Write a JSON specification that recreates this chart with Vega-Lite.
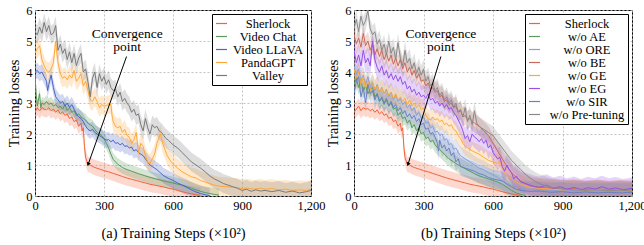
{
"$schema": "https://vega.github.io/schema/vega-lite/v6.json",
"padding": {"left": 6, "top": 3, "right": 0, "bottom": 0},
"bounds": "flush",
"spacing": 43,
"config": {
 "font": "Liberation Serif",
 "view": {"stroke": "black", "strokeWidth": 1},
 "axis": {"labelFont": "Liberation Serif", "labelFontSize": 12.5, "labelColor": "black", "titleFont": "Liberation Serif", "titleFontSize": 14.5, "titleFontWeight": "normal", "titleColor": "black", "domain": false, "ticks": false, "gridColor": "#b5b5b5", "gridDash": [2, 2], "gridWidth": 0.8, "labelPadding": 3, "labelFlush": false, "labelOverlap": false},
 "legend": {"orient": "top-right", "offset": 4, "strokeColor": "black", "strokeWidth": 1, "fillColor": "white", "padding": 3, "symbolType": "stroke", "symbolSize": 120, "symbolStrokeWidth": 1.2, "symbolOpacity": 1, "labelFont": "Liberation Serif", "labelFontSize": 12.5, "labelColor": "black", "rowPadding": -1, "labelAlign": "center", "labelLimit": 200}
},
"datasets": {
 "err": [
  {"s": "Sherlock", "e": 0.25}, {"s": "Video Chat", "e": 0.2}, {"s": "Video LLaVA", "e": 0.25}, {"s": "PandaGPT", "e": 0.3}, {"s": "Valley", "e": 0.3},
  {"s": "w/o AE", "e": 0.25}, {"s": "w/o ORE", "e": 0.3}, {"s": "w/o BE", "e": 0.3}, {"s": "w/o GE", "e": 0.3}, {"s": "w/o EG", "e": 0.35}, {"s": "w/o SIR", "e": 0.3}, {"s": "w/o Pre-tuning", "e": 0.3}
 ],
 "annA": [{"x": 398, "y": 4.5, "x2": 232, "y2": 1.04}],
 "txtA": [{"x": 401, "y": 5.22, "t": "Convergence"}, {"x": 401, "y": 4.8, "t": "point"}],
 "annB": [{"x": 375, "y": 4.5, "x2": 234, "y2": 1.04}],
 "txtB": [{"x": 375, "y": 5.22, "t": "Convergence"}, {"x": 375, "y": 4.8, "t": "point"}],
 "a": [
{"s":"Sherlock","x":0,"y":2.70},{"s":"Sherlock","x":10,"y":2.85},{"s":"Sherlock","x":20,"y":2.75},{"s":"Sherlock","x":30,"y":2.85},{"s":"Sherlock","x":40,"y":2.80},{"s":"Sherlock","x":50,"y":2.78},{"s":"Sherlock","x":60,"y":2.85},{"s":"Sherlock","x":70,"y":2.75},{"s":"Sherlock","x":80,"y":2.80},{"s":"Sherlock","x":90,"y":2.70},{"s":"Sherlock","x":100,"y":2.78},{"s":"Sherlock","x":110,"y":2.65},{"s":"Sherlock","x":120,"y":2.72},{"s":"Sherlock","x":130,"y":2.60},{"s":"Sherlock","x":140,"y":2.65},{"s":"Sherlock","x":150,"y":2.50},{"s":"Sherlock","x":160,"y":2.55},{"s":"Sherlock","x":170,"y":2.40},{"s":"Sherlock","x":180,"y":2.45},{"s":"Sherlock","x":190,"y":2.25},{"s":"Sherlock","x":200,"y":2.35},{"s":"Sherlock","x":205,"y":2.10},{"s":"Sherlock","x":210,"y":2.20},{"s":"Sherlock","x":215,"y":1.60},{"s":"Sherlock","x":220,"y":1.25},{"s":"Sherlock","x":230,"y":1.02},{"s":"Sherlock","x":240,"y":1.00},{"s":"Sherlock","x":250,"y":0.95},{"s":"Sherlock","x":260,"y":0.92},{"s":"Sherlock","x":280,"y":0.87},{"s":"Sherlock","x":300,"y":0.82},{"s":"Sherlock","x":320,"y":0.78},{"s":"Sherlock","x":340,"y":0.73},{"s":"Sherlock","x":360,"y":0.68},{"s":"Sherlock","x":380,"y":0.63},{"s":"Sherlock","x":400,"y":0.58},{"s":"Sherlock","x":420,"y":0.54},{"s":"Sherlock","x":440,"y":0.50},{"s":"Sherlock","x":460,"y":0.46},{"s":"Sherlock","x":480,"y":0.42},{"s":"Sherlock","x":500,"y":0.38},{"s":"Sherlock","x":520,"y":0.35},{"s":"Sherlock","x":540,"y":0.32},{"s":"Sherlock","x":560,"y":0.29},{"s":"Sherlock","x":580,"y":0.25},{"s":"Sherlock","x":600,"y":0.22},{"s":"Sherlock","x":620,"y":0.18},{"s":"Sherlock","x":640,"y":0.14},{"s":"Sherlock","x":660,"y":0.10},{"s":"Sherlock","x":680,"y":0.07},{"s":"Sherlock","x":700,"y":0.04},{"s":"Sherlock","x":720,"y":0.02},
{"s":"Video Chat","x":0,"y":3.90},{"s":"Video Chat","x":5,"y":3.30},{"s":"Video Chat","x":10,"y":2.90},{"s":"Video Chat","x":20,"y":3.30},{"s":"Video Chat","x":25,"y":2.85},{"s":"Video Chat","x":30,"y":3.00},{"s":"Video Chat","x":40,"y":2.95},{"s":"Video Chat","x":50,"y":3.05},{"s":"Video Chat","x":60,"y":2.95},{"s":"Video Chat","x":70,"y":3.00},{"s":"Video Chat","x":80,"y":2.90},{"s":"Video Chat","x":90,"y":2.95},{"s":"Video Chat","x":100,"y":2.85},{"s":"Video Chat","x":110,"y":2.90},{"s":"Video Chat","x":120,"y":2.80},{"s":"Video Chat","x":130,"y":2.95},{"s":"Video Chat","x":140,"y":2.75},{"s":"Video Chat","x":150,"y":2.85},{"s":"Video Chat","x":160,"y":2.70},{"s":"Video Chat","x":170,"y":2.75},{"s":"Video Chat","x":180,"y":2.60},{"s":"Video Chat","x":190,"y":2.65},{"s":"Video Chat","x":200,"y":2.55},{"s":"Video Chat","x":210,"y":2.50},{"s":"Video Chat","x":220,"y":2.45},{"s":"Video Chat","x":230,"y":2.35},{"s":"Video Chat","x":240,"y":2.30},{"s":"Video Chat","x":250,"y":2.25},{"s":"Video Chat","x":260,"y":2.15},{"s":"Video Chat","x":270,"y":2.05},{"s":"Video Chat","x":280,"y":2.00},{"s":"Video Chat","x":290,"y":1.95},{"s":"Video Chat","x":300,"y":1.85},{"s":"Video Chat","x":310,"y":1.70},{"s":"Video Chat","x":320,"y":1.55},{"s":"Video Chat","x":330,"y":1.35},{"s":"Video Chat","x":340,"y":1.18},{"s":"Video Chat","x":360,"y":1.02},{"s":"Video Chat","x":380,"y":0.92},{"s":"Video Chat","x":400,"y":0.85},{"s":"Video Chat","x":420,"y":0.80},{"s":"Video Chat","x":450,"y":0.72},{"s":"Video Chat","x":475,"y":0.66},{"s":"Video Chat","x":500,"y":0.60},{"s":"Video Chat","x":525,"y":0.55},{"s":"Video Chat","x":550,"y":0.50},{"s":"Video Chat","x":575,"y":0.46},{"s":"Video Chat","x":600,"y":0.42},{"s":"Video Chat","x":620,"y":0.38},{"s":"Video Chat","x":640,"y":0.35},{"s":"Video Chat","x":660,"y":0.30},{"s":"Video Chat","x":680,"y":0.25},{"s":"Video Chat","x":700,"y":0.20},{"s":"Video Chat","x":720,"y":0.15},{"s":"Video Chat","x":740,"y":0.11},{"s":"Video Chat","x":760,"y":0.08},{"s":"Video Chat","x":780,"y":0.05},{"s":"Video Chat","x":800,"y":0.03},
{"s":"Video LLaVA","x":0,"y":4.00},{"s":"Video LLaVA","x":10,"y":4.05},{"s":"Video LLaVA","x":20,"y":3.95},{"s":"Video LLaVA","x":30,"y":4.00},{"s":"Video LLaVA","x":40,"y":3.85},{"s":"Video LLaVA","x":50,"y":3.70},{"s":"Video LLaVA","x":55,"y":3.40},{"s":"Video LLaVA","x":60,"y":3.60},{"s":"Video LLaVA","x":70,"y":3.90},{"s":"Video LLaVA","x":80,"y":3.50},{"s":"Video LLaVA","x":90,"y":3.20},{"s":"Video LLaVA","x":100,"y":3.10},{"s":"Video LLaVA","x":110,"y":3.00},{"s":"Video LLaVA","x":120,"y":3.05},{"s":"Video LLaVA","x":130,"y":2.90},{"s":"Video LLaVA","x":140,"y":3.00},{"s":"Video LLaVA","x":150,"y":2.85},{"s":"Video LLaVA","x":160,"y":2.95},{"s":"Video LLaVA","x":170,"y":2.80},{"s":"Video LLaVA","x":180,"y":2.65},{"s":"Video LLaVA","x":190,"y":2.55},{"s":"Video LLaVA","x":200,"y":2.50},{"s":"Video LLaVA","x":210,"y":2.40},{"s":"Video LLaVA","x":220,"y":2.25},{"s":"Video LLaVA","x":230,"y":2.15},{"s":"Video LLaVA","x":240,"y":2.10},{"s":"Video LLaVA","x":250,"y":2.15},{"s":"Video LLaVA","x":260,"y":2.05},{"s":"Video LLaVA","x":270,"y":2.00},{"s":"Video LLaVA","x":280,"y":1.95},{"s":"Video LLaVA","x":290,"y":1.90},{"s":"Video LLaVA","x":300,"y":1.85},{"s":"Video LLaVA","x":310,"y":1.80},{"s":"Video LLaVA","x":320,"y":1.82},{"s":"Video LLaVA","x":330,"y":1.75},{"s":"Video LLaVA","x":340,"y":1.80},{"s":"Video LLaVA","x":350,"y":1.70},{"s":"Video LLaVA","x":360,"y":1.72},{"s":"Video LLaVA","x":370,"y":1.65},{"s":"Video LLaVA","x":380,"y":1.70},{"s":"Video LLaVA","x":390,"y":1.60},{"s":"Video LLaVA","x":400,"y":1.62},{"s":"Video LLaVA","x":410,"y":1.55},{"s":"Video LLaVA","x":420,"y":1.58},{"s":"Video LLaVA","x":430,"y":1.45},{"s":"Video LLaVA","x":440,"y":1.50},{"s":"Video LLaVA","x":450,"y":1.40},{"s":"Video LLaVA","x":460,"y":1.35},{"s":"Video LLaVA","x":470,"y":1.30},{"s":"Video LLaVA","x":480,"y":1.20},{"s":"Video LLaVA","x":490,"y":1.10},{"s":"Video LLaVA","x":500,"y":1.00},{"s":"Video LLaVA","x":510,"y":0.95},{"s":"Video LLaVA","x":520,"y":0.90},{"s":"Video LLaVA","x":530,"y":0.85},{"s":"Video LLaVA","x":540,"y":0.78},{"s":"Video LLaVA","x":560,"y":0.65},{"s":"Video LLaVA","x":580,"y":0.57},{"s":"Video LLaVA","x":600,"y":0.50},{"s":"Video LLaVA","x":620,"y":0.42},{"s":"Video LLaVA","x":640,"y":0.35},{"s":"Video LLaVA","x":660,"y":0.28},{"s":"Video LLaVA","x":680,"y":0.20},{"s":"Video LLaVA","x":700,"y":0.13},{"s":"Video LLaVA","x":720,"y":0.08},{"s":"Video LLaVA","x":740,"y":0.04},{"s":"Video LLaVA","x":760,"y":0.01},
{"s":"PandaGPT","x":0,"y":4.60},{"s":"PandaGPT","x":10,"y":4.75},{"s":"PandaGPT","x":20,"y":4.85},{"s":"PandaGPT","x":30,"y":4.40},{"s":"PandaGPT","x":40,"y":4.20},{"s":"PandaGPT","x":50,"y":4.05},{"s":"PandaGPT","x":60,"y":4.00},{"s":"PandaGPT","x":70,"y":4.10},{"s":"PandaGPT","x":80,"y":4.30},{"s":"PandaGPT","x":90,"y":5.00},{"s":"PandaGPT","x":95,"y":4.60},{"s":"PandaGPT","x":100,"y":4.30},{"s":"PandaGPT","x":110,"y":3.95},{"s":"PandaGPT","x":120,"y":3.80},{"s":"PandaGPT","x":130,"y":3.85},{"s":"PandaGPT","x":140,"y":3.75},{"s":"PandaGPT","x":150,"y":3.90},{"s":"PandaGPT","x":160,"y":3.80},{"s":"PandaGPT","x":170,"y":4.05},{"s":"PandaGPT","x":180,"y":3.70},{"s":"PandaGPT","x":190,"y":3.80},{"s":"PandaGPT","x":200,"y":3.95},{"s":"PandaGPT","x":210,"y":3.55},{"s":"PandaGPT","x":220,"y":3.70},{"s":"PandaGPT","x":230,"y":3.40},{"s":"PandaGPT","x":240,"y":3.10},{"s":"PandaGPT","x":250,"y":3.05},{"s":"PandaGPT","x":260,"y":3.20},{"s":"PandaGPT","x":270,"y":3.05},{"s":"PandaGPT","x":280,"y":2.85},{"s":"PandaGPT","x":290,"y":2.95},{"s":"PandaGPT","x":300,"y":2.90},{"s":"PandaGPT","x":310,"y":2.92},{"s":"PandaGPT","x":320,"y":2.95},{"s":"PandaGPT","x":330,"y":2.95},{"s":"PandaGPT","x":335,"y":2.60},{"s":"PandaGPT","x":340,"y":2.40},{"s":"PandaGPT","x":350,"y":2.25},{"s":"PandaGPT","x":360,"y":2.20},{"s":"PandaGPT","x":370,"y":2.25},{"s":"PandaGPT","x":380,"y":2.05},{"s":"PandaGPT","x":390,"y":2.15},{"s":"PandaGPT","x":400,"y":1.95},{"s":"PandaGPT","x":410,"y":1.90},{"s":"PandaGPT","x":420,"y":1.70},{"s":"PandaGPT","x":430,"y":1.80},{"s":"PandaGPT","x":440,"y":2.05},{"s":"PandaGPT","x":450,"y":1.40},{"s":"PandaGPT","x":460,"y":1.70},{"s":"PandaGPT","x":470,"y":1.60},{"s":"PandaGPT","x":480,"y":1.30},{"s":"PandaGPT","x":490,"y":1.10},{"s":"PandaGPT","x":500,"y":1.05},{"s":"PandaGPT","x":510,"y":1.20},{"s":"PandaGPT","x":520,"y":1.35},{"s":"PandaGPT","x":530,"y":1.70},{"s":"PandaGPT","x":545,"y":2.00},{"s":"PandaGPT","x":555,"y":1.70},{"s":"PandaGPT","x":565,"y":1.50},{"s":"PandaGPT","x":575,"y":1.30},{"s":"PandaGPT","x":590,"y":1.12},{"s":"PandaGPT","x":605,"y":1.00},{"s":"PandaGPT","x":620,"y":0.90},{"s":"PandaGPT","x":640,"y":0.78},{"s":"PandaGPT","x":660,"y":0.70},{"s":"PandaGPT","x":680,"y":0.62},{"s":"PandaGPT","x":700,"y":0.58},{"s":"PandaGPT","x":720,"y":0.50},{"s":"PandaGPT","x":740,"y":0.45},{"s":"PandaGPT","x":760,"y":0.40},{"s":"PandaGPT","x":780,"y":0.35},{"s":"PandaGPT","x":800,"y":0.32},{"s":"PandaGPT","x":830,"y":0.30},{"s":"PandaGPT","x":860,"y":0.28},{"s":"PandaGPT","x":880,"y":0.27},{"s":"PandaGPT","x":900,"y":0.24},{"s":"PandaGPT","x":920,"y":0.26},{"s":"PandaGPT","x":950,"y":0.22},{"s":"PandaGPT","x":980,"y":0.25},{"s":"PandaGPT","x":1000,"y":0.22},{"s":"PandaGPT","x":1030,"y":0.24},{"s":"PandaGPT","x":1060,"y":0.20},{"s":"PandaGPT","x":1090,"y":0.22},{"s":"PandaGPT","x":1120,"y":0.18},{"s":"PandaGPT","x":1150,"y":0.20},{"s":"PandaGPT","x":1180,"y":0.18},{"s":"PandaGPT","x":1200,"y":0.22},
{"s":"Valley","x":0,"y":5.30},{"s":"Valley","x":10,"y":5.20},{"s":"Valley","x":20,"y":5.45},{"s":"Valley","x":30,"y":5.25},{"s":"Valley","x":40,"y":5.60},{"s":"Valley","x":50,"y":5.30},{"s":"Valley","x":60,"y":5.50},{"s":"Valley","x":70,"y":5.20},{"s":"Valley","x":80,"y":5.25},{"s":"Valley","x":90,"y":5.50},{"s":"Valley","x":100,"y":4.70},{"s":"Valley","x":110,"y":4.90},{"s":"Valley","x":120,"y":4.60},{"s":"Valley","x":130,"y":4.75},{"s":"Valley","x":140,"y":4.40},{"s":"Valley","x":150,"y":4.65},{"s":"Valley","x":160,"y":4.30},{"s":"Valley","x":170,"y":4.60},{"s":"Valley","x":180,"y":4.20},{"s":"Valley","x":190,"y":4.45},{"s":"Valley","x":200,"y":4.60},{"s":"Valley","x":210,"y":4.00},{"s":"Valley","x":220,"y":4.10},{"s":"Valley","x":230,"y":3.70},{"s":"Valley","x":240,"y":3.20},{"s":"Valley","x":250,"y":3.80},{"s":"Valley","x":260,"y":4.00},{"s":"Valley","x":270,"y":3.50},{"s":"Valley","x":280,"y":3.95},{"s":"Valley","x":290,"y":3.70},{"s":"Valley","x":300,"y":3.85},{"s":"Valley","x":310,"y":3.60},{"s":"Valley","x":320,"y":3.75},{"s":"Valley","x":330,"y":3.50},{"s":"Valley","x":340,"y":3.40},{"s":"Valley","x":350,"y":3.45},{"s":"Valley","x":360,"y":3.20},{"s":"Valley","x":370,"y":3.35},{"s":"Valley","x":380,"y":3.05},{"s":"Valley","x":390,"y":3.15},{"s":"Valley","x":400,"y":3.00},{"s":"Valley","x":410,"y":2.90},{"s":"Valley","x":420,"y":2.70},{"s":"Valley","x":430,"y":2.80},{"s":"Valley","x":440,"y":2.60},{"s":"Valley","x":450,"y":2.65},{"s":"Valley","x":460,"y":2.30},{"s":"Valley","x":470,"y":2.10},{"s":"Valley","x":480,"y":2.50},{"s":"Valley","x":490,"y":2.20},{"s":"Valley","x":500,"y":2.00},{"s":"Valley","x":510,"y":2.30},{"s":"Valley","x":520,"y":2.20},{"s":"Valley","x":530,"y":2.25},{"s":"Valley","x":540,"y":2.10},{"s":"Valley","x":550,"y":2.05},{"s":"Valley","x":560,"y":1.95},{"s":"Valley","x":570,"y":1.85},{"s":"Valley","x":580,"y":1.80},{"s":"Valley","x":600,"y":1.65},{"s":"Valley","x":620,"y":1.55},{"s":"Valley","x":640,"y":1.40},{"s":"Valley","x":660,"y":1.25},{"s":"Valley","x":680,"y":1.10},{"s":"Valley","x":700,"y":1.00},{"s":"Valley","x":720,"y":0.90},{"s":"Valley","x":740,"y":0.78},{"s":"Valley","x":760,"y":0.65},{"s":"Valley","x":780,"y":0.55},{"s":"Valley","x":800,"y":0.48},{"s":"Valley","x":820,"y":0.40},{"s":"Valley","x":840,"y":0.35},{"s":"Valley","x":860,"y":0.30},{"s":"Valley","x":880,"y":0.25},{"s":"Valley","x":900,"y":0.18},{"s":"Valley","x":920,"y":0.22},{"s":"Valley","x":940,"y":0.15},{"s":"Valley","x":960,"y":0.20},{"s":"Valley","x":980,"y":0.16},{"s":"Valley","x":1000,"y":0.18},{"s":"Valley","x":1030,"y":0.14},{"s":"Valley","x":1060,"y":0.18},{"s":"Valley","x":1090,"y":0.12},{"s":"Valley","x":1120,"y":0.16},{"s":"Valley","x":1150,"y":0.10},{"s":"Valley","x":1180,"y":0.14},{"s":"Valley","x":1200,"y":0.18}
 ],
 "b": [
{"s":"Sherlock","x":0,"y":2.70},{"s":"Sherlock","x":10,"y":2.80},{"s":"Sherlock","x":20,"y":2.90},{"s":"Sherlock","x":30,"y":2.75},{"s":"Sherlock","x":40,"y":2.85},{"s":"Sherlock","x":50,"y":2.80},{"s":"Sherlock","x":60,"y":2.82},{"s":"Sherlock","x":70,"y":2.75},{"s":"Sherlock","x":80,"y":2.80},{"s":"Sherlock","x":90,"y":2.70},{"s":"Sherlock","x":100,"y":2.78},{"s":"Sherlock","x":110,"y":2.65},{"s":"Sherlock","x":120,"y":2.72},{"s":"Sherlock","x":130,"y":2.60},{"s":"Sherlock","x":140,"y":2.65},{"s":"Sherlock","x":150,"y":2.50},{"s":"Sherlock","x":160,"y":2.55},{"s":"Sherlock","x":170,"y":2.40},{"s":"Sherlock","x":180,"y":2.45},{"s":"Sherlock","x":190,"y":2.25},{"s":"Sherlock","x":200,"y":2.35},{"s":"Sherlock","x":205,"y":2.10},{"s":"Sherlock","x":210,"y":2.20},{"s":"Sherlock","x":215,"y":1.60},{"s":"Sherlock","x":220,"y":1.25},{"s":"Sherlock","x":230,"y":1.02},{"s":"Sherlock","x":240,"y":1.00},{"s":"Sherlock","x":250,"y":0.95},{"s":"Sherlock","x":260,"y":0.92},{"s":"Sherlock","x":280,"y":0.87},{"s":"Sherlock","x":300,"y":0.82},{"s":"Sherlock","x":320,"y":0.78},{"s":"Sherlock","x":340,"y":0.73},{"s":"Sherlock","x":360,"y":0.68},{"s":"Sherlock","x":380,"y":0.63},{"s":"Sherlock","x":400,"y":0.58},{"s":"Sherlock","x":420,"y":0.54},{"s":"Sherlock","x":440,"y":0.50},{"s":"Sherlock","x":460,"y":0.46},{"s":"Sherlock","x":480,"y":0.42},{"s":"Sherlock","x":500,"y":0.38},{"s":"Sherlock","x":520,"y":0.35},{"s":"Sherlock","x":540,"y":0.32},{"s":"Sherlock","x":560,"y":0.29},{"s":"Sherlock","x":580,"y":0.25},{"s":"Sherlock","x":600,"y":0.22},{"s":"Sherlock","x":620,"y":0.18},{"s":"Sherlock","x":640,"y":0.14},{"s":"Sherlock","x":660,"y":0.10},{"s":"Sherlock","x":680,"y":0.07},{"s":"Sherlock","x":700,"y":0.04},{"s":"Sherlock","x":720,"y":0.02},
{"s":"w/o AE","x":0,"y":3.60},{"s":"w/o AE","x":10,"y":3.80},{"s":"w/o AE","x":20,"y":3.50},{"s":"w/o AE","x":30,"y":3.70},{"s":"w/o AE","x":40,"y":3.40},{"s":"w/o AE","x":50,"y":3.55},{"s":"w/o AE","x":60,"y":3.30},{"s":"w/o AE","x":70,"y":3.45},{"s":"w/o AE","x":80,"y":3.50},{"s":"w/o AE","x":90,"y":3.20},{"s":"w/o AE","x":100,"y":3.30},{"s":"w/o AE","x":110,"y":3.05},{"s":"w/o AE","x":120,"y":3.15},{"s":"w/o AE","x":130,"y":2.95},{"s":"w/o AE","x":140,"y":3.10},{"s":"w/o AE","x":150,"y":2.90},{"s":"w/o AE","x":160,"y":3.00},{"s":"w/o AE","x":170,"y":2.80},{"s":"w/o AE","x":180,"y":2.85},{"s":"w/o AE","x":190,"y":2.60},{"s":"w/o AE","x":200,"y":2.70},{"s":"w/o AE","x":210,"y":2.50},{"s":"w/o AE","x":220,"y":2.55},{"s":"w/o AE","x":230,"y":2.35},{"s":"w/o AE","x":240,"y":2.45},{"s":"w/o AE","x":250,"y":2.20},{"s":"w/o AE","x":260,"y":2.30},{"s":"w/o AE","x":270,"y":2.10},{"s":"w/o AE","x":280,"y":2.20},{"s":"w/o AE","x":290,"y":2.00},{"s":"w/o AE","x":300,"y":2.05},{"s":"w/o AE","x":310,"y":1.85},{"s":"w/o AE","x":320,"y":1.90},{"s":"w/o AE","x":330,"y":1.75},{"s":"w/o AE","x":340,"y":1.80},{"s":"w/o AE","x":350,"y":1.65},{"s":"w/o AE","x":370,"y":1.50},{"s":"w/o AE","x":390,"y":1.35},{"s":"w/o AE","x":410,"y":1.20},{"s":"w/o AE","x":430,"y":1.10},{"s":"w/o AE","x":450,"y":1.00},{"s":"w/o AE","x":480,"y":0.88},{"s":"w/o AE","x":500,"y":0.80},{"s":"w/o AE","x":520,"y":0.72},{"s":"w/o AE","x":540,"y":0.65},{"s":"w/o AE","x":560,"y":0.60},{"s":"w/o AE","x":580,"y":0.55},{"s":"w/o AE","x":600,"y":0.50},{"s":"w/o AE","x":620,"y":0.45},{"s":"w/o AE","x":640,"y":0.38},{"s":"w/o AE","x":660,"y":0.28},{"s":"w/o AE","x":680,"y":0.18},{"s":"w/o AE","x":700,"y":0.10},{"s":"w/o AE","x":720,"y":0.05},{"s":"w/o AE","x":740,"y":0.02},
{"s":"w/o ORE","x":0,"y":4.20},{"s":"w/o ORE","x":10,"y":3.90},{"s":"w/o ORE","x":20,"y":4.10},{"s":"w/o ORE","x":30,"y":3.70},{"s":"w/o ORE","x":40,"y":3.90},{"s":"w/o ORE","x":50,"y":3.60},{"s":"w/o ORE","x":60,"y":3.85},{"s":"w/o ORE","x":70,"y":3.50},{"s":"w/o ORE","x":80,"y":3.65},{"s":"w/o ORE","x":90,"y":3.40},{"s":"w/o ORE","x":100,"y":3.60},{"s":"w/o ORE","x":110,"y":3.35},{"s":"w/o ORE","x":120,"y":3.50},{"s":"w/o ORE","x":130,"y":3.30},{"s":"w/o ORE","x":140,"y":3.45},{"s":"w/o ORE","x":150,"y":3.20},{"s":"w/o ORE","x":160,"y":3.35},{"s":"w/o ORE","x":170,"y":3.10},{"s":"w/o ORE","x":180,"y":3.25},{"s":"w/o ORE","x":190,"y":3.05},{"s":"w/o ORE","x":200,"y":3.15},{"s":"w/o ORE","x":210,"y":2.95},{"s":"w/o ORE","x":220,"y":3.05},{"s":"w/o ORE","x":230,"y":2.85},{"s":"w/o ORE","x":240,"y":2.95},{"s":"w/o ORE","x":250,"y":2.75},{"s":"w/o ORE","x":260,"y":2.85},{"s":"w/o ORE","x":270,"y":2.60},{"s":"w/o ORE","x":280,"y":2.70},{"s":"w/o ORE","x":290,"y":2.50},{"s":"w/o ORE","x":300,"y":2.55},{"s":"w/o ORE","x":310,"y":2.35},{"s":"w/o ORE","x":320,"y":2.40},{"s":"w/o ORE","x":330,"y":2.20},{"s":"w/o ORE","x":340,"y":2.25},{"s":"w/o ORE","x":350,"y":2.05},{"s":"w/o ORE","x":360,"y":2.10},{"s":"w/o ORE","x":370,"y":1.95},{"s":"w/o ORE","x":380,"y":2.00},{"s":"w/o ORE","x":390,"y":1.80},{"s":"w/o ORE","x":400,"y":1.85},{"s":"w/o ORE","x":410,"y":1.65},{"s":"w/o ORE","x":420,"y":1.70},{"s":"w/o ORE","x":430,"y":1.50},{"s":"w/o ORE","x":440,"y":1.55},{"s":"w/o ORE","x":450,"y":1.40},{"s":"w/o ORE","x":460,"y":1.30},{"s":"w/o ORE","x":480,"y":1.20},{"s":"w/o ORE","x":500,"y":1.10},{"s":"w/o ORE","x":520,"y":1.00},{"s":"w/o ORE","x":540,"y":0.90},{"s":"w/o ORE","x":560,"y":0.85},{"s":"w/o ORE","x":580,"y":0.75},{"s":"w/o ORE","x":600,"y":0.68},{"s":"w/o ORE","x":620,"y":0.60},{"s":"w/o ORE","x":640,"y":0.50},{"s":"w/o ORE","x":660,"y":0.42},{"s":"w/o ORE","x":680,"y":0.35},{"s":"w/o ORE","x":700,"y":0.30},{"s":"w/o ORE","x":720,"y":0.26},{"s":"w/o ORE","x":740,"y":0.22},{"s":"w/o ORE","x":760,"y":0.20},{"s":"w/o ORE","x":800,"y":0.20},{"s":"w/o ORE","x":850,"y":0.18},{"s":"w/o ORE","x":900,"y":0.15},{"s":"w/o ORE","x":950,"y":0.18},{"s":"w/o ORE","x":1000,"y":0.15},{"s":"w/o ORE","x":1050,"y":0.17},{"s":"w/o ORE","x":1100,"y":0.14},{"s":"w/o ORE","x":1150,"y":0.16},{"s":"w/o ORE","x":1200,"y":0.15},
{"s":"w/o BE","x":0,"y":5.20},{"s":"w/o BE","x":10,"y":4.90},{"s":"w/o BE","x":20,"y":5.10},{"s":"w/o BE","x":30,"y":4.80},{"s":"w/o BE","x":40,"y":5.25},{"s":"w/o BE","x":50,"y":4.85},{"s":"w/o BE","x":60,"y":5.00},{"s":"w/o BE","x":70,"y":4.70},{"s":"w/o BE","x":80,"y":4.90},{"s":"w/o BE","x":90,"y":4.55},{"s":"w/o BE","x":100,"y":4.75},{"s":"w/o BE","x":110,"y":4.50},{"s":"w/o BE","x":120,"y":4.70},{"s":"w/o BE","x":130,"y":4.40},{"s":"w/o BE","x":140,"y":4.60},{"s":"w/o BE","x":150,"y":4.35},{"s":"w/o BE","x":160,"y":4.55},{"s":"w/o BE","x":170,"y":4.25},{"s":"w/o BE","x":180,"y":4.45},{"s":"w/o BE","x":190,"y":4.20},{"s":"w/o BE","x":200,"y":4.40},{"s":"w/o BE","x":210,"y":4.10},{"s":"w/o BE","x":220,"y":4.30},{"s":"w/o BE","x":230,"y":4.00},{"s":"w/o BE","x":240,"y":4.15},{"s":"w/o BE","x":250,"y":3.90},{"s":"w/o BE","x":260,"y":4.05},{"s":"w/o BE","x":270,"y":3.80},{"s":"w/o BE","x":280,"y":3.95},{"s":"w/o BE","x":290,"y":3.70},{"s":"w/o BE","x":300,"y":3.75},{"s":"w/o BE","x":310,"y":3.55},{"s":"w/o BE","x":320,"y":3.65},{"s":"w/o BE","x":330,"y":3.45},{"s":"w/o BE","x":340,"y":3.50},{"s":"w/o BE","x":350,"y":3.35},{"s":"w/o BE","x":360,"y":3.40},{"s":"w/o BE","x":370,"y":3.20},{"s":"w/o BE","x":380,"y":3.25},{"s":"w/o BE","x":390,"y":3.05},{"s":"w/o BE","x":400,"y":3.10},{"s":"w/o BE","x":410,"y":2.95},{"s":"w/o BE","x":420,"y":3.00},{"s":"w/o BE","x":430,"y":2.85},{"s":"w/o BE","x":440,"y":2.90},{"s":"w/o BE","x":450,"y":2.70},{"s":"w/o BE","x":460,"y":2.75},{"s":"w/o BE","x":470,"y":2.55},{"s":"w/o BE","x":480,"y":2.60},{"s":"w/o BE","x":490,"y":2.45},{"s":"w/o BE","x":500,"y":2.50},{"s":"w/o BE","x":520,"y":2.35},{"s":"w/o BE","x":540,"y":2.25},{"s":"w/o BE","x":560,"y":2.10},{"s":"w/o BE","x":580,"y":1.95},{"s":"w/o BE","x":600,"y":1.70},{"s":"w/o BE","x":620,"y":1.45},{"s":"w/o BE","x":640,"y":1.20},{"s":"w/o BE","x":660,"y":0.95},{"s":"w/o BE","x":680,"y":0.75},{"s":"w/o BE","x":700,"y":0.60},{"s":"w/o BE","x":720,"y":0.48},{"s":"w/o BE","x":740,"y":0.40},{"s":"w/o BE","x":760,"y":0.34},{"s":"w/o BE","x":780,"y":0.30},{"s":"w/o BE","x":800,"y":0.28},{"s":"w/o BE","x":850,"y":0.25},{"s":"w/o BE","x":900,"y":0.22},{"s":"w/o BE","x":950,"y":0.24},{"s":"w/o BE","x":1000,"y":0.20},{"s":"w/o BE","x":1050,"y":0.23},{"s":"w/o BE","x":1100,"y":0.19},{"s":"w/o BE","x":1150,"y":0.22},{"s":"w/o BE","x":1200,"y":0.20},
{"s":"w/o GE","x":0,"y":4.10},{"s":"w/o GE","x":10,"y":3.80},{"s":"w/o GE","x":20,"y":4.00},{"s":"w/o GE","x":30,"y":3.60},{"s":"w/o GE","x":40,"y":3.85},{"s":"w/o GE","x":50,"y":3.50},{"s":"w/o GE","x":60,"y":3.70},{"s":"w/o GE","x":70,"y":3.40},{"s":"w/o GE","x":80,"y":3.65},{"s":"w/o GE","x":90,"y":3.45},{"s":"w/o GE","x":100,"y":3.55},{"s":"w/o GE","x":110,"y":3.35},{"s":"w/o GE","x":120,"y":3.50},{"s":"w/o GE","x":130,"y":3.30},{"s":"w/o GE","x":140,"y":3.40},{"s":"w/o GE","x":150,"y":3.25},{"s":"w/o GE","x":160,"y":3.35},{"s":"w/o GE","x":170,"y":3.15},{"s":"w/o GE","x":180,"y":3.30},{"s":"w/o GE","x":190,"y":3.10},{"s":"w/o GE","x":200,"y":3.20},{"s":"w/o GE","x":210,"y":3.05},{"s":"w/o GE","x":220,"y":3.15},{"s":"w/o GE","x":230,"y":2.95},{"s":"w/o GE","x":240,"y":3.10},{"s":"w/o GE","x":250,"y":2.90},{"s":"w/o GE","x":260,"y":3.00},{"s":"w/o GE","x":270,"y":2.85},{"s":"w/o GE","x":280,"y":2.95},{"s":"w/o GE","x":290,"y":2.80},{"s":"w/o GE","x":300,"y":2.85},{"s":"w/o GE","x":310,"y":2.60},{"s":"w/o GE","x":320,"y":2.50},{"s":"w/o GE","x":330,"y":2.45},{"s":"w/o GE","x":340,"y":2.55},{"s":"w/o GE","x":350,"y":2.45},{"s":"w/o GE","x":360,"y":2.50},{"s":"w/o GE","x":370,"y":2.40},{"s":"w/o GE","x":380,"y":2.45},{"s":"w/o GE","x":390,"y":2.30},{"s":"w/o GE","x":400,"y":2.35},{"s":"w/o GE","x":410,"y":2.25},{"s":"w/o GE","x":420,"y":2.30},{"s":"w/o GE","x":430,"y":2.15},{"s":"w/o GE","x":440,"y":2.10},{"s":"w/o GE","x":450,"y":1.95},{"s":"w/o GE","x":460,"y":1.85},{"s":"w/o GE","x":470,"y":1.70},{"s":"w/o GE","x":480,"y":1.60},{"s":"w/o GE","x":490,"y":1.55},{"s":"w/o GE","x":500,"y":1.50},{"s":"w/o GE","x":520,"y":1.42},{"s":"w/o GE","x":540,"y":1.35},{"s":"w/o GE","x":560,"y":1.25},{"s":"w/o GE","x":580,"y":1.15},{"s":"w/o GE","x":600,"y":1.10},{"s":"w/o GE","x":620,"y":1.05},{"s":"w/o GE","x":630,"y":1.10},{"s":"w/o GE","x":640,"y":0.90},{"s":"w/o GE","x":650,"y":0.75},{"s":"w/o GE","x":660,"y":0.65},{"s":"w/o GE","x":680,"y":0.55},{"s":"w/o GE","x":700,"y":0.45},{"s":"w/o GE","x":720,"y":0.38},{"s":"w/o GE","x":740,"y":0.32},{"s":"w/o GE","x":760,"y":0.28},{"s":"w/o GE","x":800,"y":0.25},{"s":"w/o GE","x":850,"y":0.22},{"s":"w/o GE","x":900,"y":0.20},{"s":"w/o GE","x":950,"y":0.22},{"s":"w/o GE","x":1000,"y":0.18},{"s":"w/o GE","x":1050,"y":0.21},{"s":"w/o GE","x":1100,"y":0.18},{"s":"w/o GE","x":1150,"y":0.20},{"s":"w/o GE","x":1200,"y":0.18},
{"s":"w/o EG","x":0,"y":4.70},{"s":"w/o EG","x":10,"y":4.30},{"s":"w/o EG","x":20,"y":4.55},{"s":"w/o EG","x":30,"y":4.20},{"s":"w/o EG","x":40,"y":4.70},{"s":"w/o EG","x":50,"y":4.30},{"s":"w/o EG","x":60,"y":4.45},{"s":"w/o EG","x":70,"y":4.20},{"s":"w/o EG","x":80,"y":5.00},{"s":"w/o EG","x":90,"y":4.40},{"s":"w/o EG","x":100,"y":4.15},{"s":"w/o EG","x":110,"y":4.00},{"s":"w/o EG","x":120,"y":4.20},{"s":"w/o EG","x":130,"y":3.90},{"s":"w/o EG","x":140,"y":4.05},{"s":"w/o EG","x":150,"y":3.80},{"s":"w/o EG","x":160,"y":3.95},{"s":"w/o EG","x":170,"y":3.75},{"s":"w/o EG","x":180,"y":3.90},{"s":"w/o EG","x":190,"y":3.70},{"s":"w/o EG","x":200,"y":3.85},{"s":"w/o EG","x":210,"y":3.60},{"s":"w/o EG","x":220,"y":3.70},{"s":"w/o EG","x":230,"y":3.45},{"s":"w/o EG","x":240,"y":3.55},{"s":"w/o EG","x":250,"y":3.35},{"s":"w/o EG","x":260,"y":3.45},{"s":"w/o EG","x":270,"y":3.25},{"s":"w/o EG","x":280,"y":3.35},{"s":"w/o EG","x":290,"y":3.20},{"s":"w/o EG","x":300,"y":3.25},{"s":"w/o EG","x":310,"y":3.15},{"s":"w/o EG","x":320,"y":3.30},{"s":"w/o EG","x":330,"y":3.10},{"s":"w/o EG","x":340,"y":3.15},{"s":"w/o EG","x":350,"y":3.00},{"s":"w/o EG","x":360,"y":3.05},{"s":"w/o EG","x":370,"y":2.90},{"s":"w/o EG","x":380,"y":3.00},{"s":"w/o EG","x":390,"y":2.85},{"s":"w/o EG","x":400,"y":2.95},{"s":"w/o EG","x":410,"y":2.80},{"s":"w/o EG","x":420,"y":2.85},{"s":"w/o EG","x":430,"y":2.70},{"s":"w/o EG","x":440,"y":2.60},{"s":"w/o EG","x":450,"y":2.45},{"s":"w/o EG","x":460,"y":2.30},{"s":"w/o EG","x":470,"y":2.10},{"s":"w/o EG","x":480,"y":1.85},{"s":"w/o EG","x":490,"y":1.95},{"s":"w/o EG","x":500,"y":1.75},{"s":"w/o EG","x":510,"y":2.00},{"s":"w/o EG","x":520,"y":1.90},{"s":"w/o EG","x":530,"y":1.85},{"s":"w/o EG","x":540,"y":1.75},{"s":"w/o EG","x":550,"y":1.85},{"s":"w/o EG","x":560,"y":1.70},{"s":"w/o EG","x":570,"y":1.80},{"s":"w/o EG","x":580,"y":1.55},{"s":"w/o EG","x":590,"y":1.65},{"s":"w/o EG","x":600,"y":1.40},{"s":"w/o EG","x":610,"y":1.30},{"s":"w/o EG","x":620,"y":1.20},{"s":"w/o EG","x":630,"y":1.25},{"s":"w/o EG","x":640,"y":0.95},{"s":"w/o EG","x":650,"y":0.80},{"s":"w/o EG","x":660,"y":1.00},{"s":"w/o EG","x":670,"y":0.85},{"s":"w/o EG","x":680,"y":0.75},{"s":"w/o EG","x":690,"y":0.55},{"s":"w/o EG","x":700,"y":0.65},{"s":"w/o EG","x":720,"y":0.45},{"s":"w/o EG","x":740,"y":0.40},{"s":"w/o EG","x":760,"y":0.35},{"s":"w/o EG","x":780,"y":0.30},{"s":"w/o EG","x":800,"y":0.28},{"s":"w/o EG","x":830,"y":0.35},{"s":"w/o EG","x":860,"y":0.25},{"s":"w/o EG","x":890,"y":0.30},{"s":"w/o EG","x":920,"y":0.22},{"s":"w/o EG","x":950,"y":0.28},{"s":"w/o EG","x":980,"y":0.20},{"s":"w/o EG","x":1010,"y":0.27},{"s":"w/o EG","x":1040,"y":0.22},{"s":"w/o EG","x":1070,"y":0.30},{"s":"w/o EG","x":1100,"y":0.22},{"s":"w/o EG","x":1130,"y":0.26},{"s":"w/o EG","x":1160,"y":0.20},{"s":"w/o EG","x":1200,"y":0.25},
{"s":"w/o SIR","x":0,"y":3.30},{"s":"w/o SIR","x":10,"y":3.70},{"s":"w/o SIR","x":20,"y":3.85},{"s":"w/o SIR","x":30,"y":3.20},{"s":"w/o SIR","x":40,"y":3.50},{"s":"w/o SIR","x":50,"y":3.00},{"s":"w/o SIR","x":60,"y":3.60},{"s":"w/o SIR","x":70,"y":3.30},{"s":"w/o SIR","x":80,"y":3.40},{"s":"w/o SIR","x":90,"y":3.10},{"s":"w/o SIR","x":100,"y":3.30},{"s":"w/o SIR","x":110,"y":3.05},{"s":"w/o SIR","x":120,"y":3.20},{"s":"w/o SIR","x":130,"y":3.00},{"s":"w/o SIR","x":140,"y":3.15},{"s":"w/o SIR","x":150,"y":2.90},{"s":"w/o SIR","x":160,"y":3.05},{"s":"w/o SIR","x":170,"y":2.85},{"s":"w/o SIR","x":180,"y":2.95},{"s":"w/o SIR","x":190,"y":2.75},{"s":"w/o SIR","x":200,"y":2.85},{"s":"w/o SIR","x":210,"y":2.65},{"s":"w/o SIR","x":220,"y":2.75},{"s":"w/o SIR","x":230,"y":2.55},{"s":"w/o SIR","x":240,"y":2.65},{"s":"w/o SIR","x":250,"y":2.50},{"s":"w/o SIR","x":260,"y":2.60},{"s":"w/o SIR","x":270,"y":2.40},{"s":"w/o SIR","x":280,"y":2.50},{"s":"w/o SIR","x":290,"y":2.30},{"s":"w/o SIR","x":300,"y":2.35},{"s":"w/o SIR","x":310,"y":2.15},{"s":"w/o SIR","x":320,"y":2.20},{"s":"w/o SIR","x":330,"y":2.00},{"s":"w/o SIR","x":340,"y":2.05},{"s":"w/o SIR","x":350,"y":1.90},{"s":"w/o SIR","x":360,"y":1.70},{"s":"w/o SIR","x":365,"y":1.45},{"s":"w/o SIR","x":370,"y":1.80},{"s":"w/o SIR","x":380,"y":1.55},{"s":"w/o SIR","x":390,"y":1.65},{"s":"w/o SIR","x":400,"y":1.45},{"s":"w/o SIR","x":410,"y":1.55},{"s":"w/o SIR","x":420,"y":1.30},{"s":"w/o SIR","x":430,"y":1.40},{"s":"w/o SIR","x":440,"y":1.10},{"s":"w/o SIR","x":450,"y":1.20},{"s":"w/o SIR","x":460,"y":0.95},{"s":"w/o SIR","x":480,"y":0.90},{"s":"w/o SIR","x":500,"y":0.85},{"s":"w/o SIR","x":520,"y":0.80},{"s":"w/o SIR","x":540,"y":0.72},{"s":"w/o SIR","x":560,"y":0.68},{"s":"w/o SIR","x":580,"y":0.60},{"s":"w/o SIR","x":600,"y":0.55},{"s":"w/o SIR","x":620,"y":0.52},{"s":"w/o SIR","x":640,"y":0.48},{"s":"w/o SIR","x":660,"y":0.38},{"s":"w/o SIR","x":680,"y":0.30},{"s":"w/o SIR","x":700,"y":0.22},{"s":"w/o SIR","x":720,"y":0.18},{"s":"w/o SIR","x":760,"y":0.15},{"s":"w/o SIR","x":800,"y":0.16},{"s":"w/o SIR","x":850,"y":0.12},{"s":"w/o SIR","x":900,"y":0.14},{"s":"w/o SIR","x":950,"y":0.10},{"s":"w/o SIR","x":1000,"y":0.13},{"s":"w/o SIR","x":1050,"y":0.10},{"s":"w/o SIR","x":1100,"y":0.12},{"s":"w/o SIR","x":1150,"y":0.10},{"s":"w/o SIR","x":1200,"y":0.12},
{"s":"w/o Pre-tuning","x":0,"y":5.40},{"s":"w/o Pre-tuning","x":10,"y":5.70},{"s":"w/o Pre-tuning","x":20,"y":5.30},{"s":"w/o Pre-tuning","x":30,"y":5.80},{"s":"w/o Pre-tuning","x":40,"y":5.50},{"s":"w/o Pre-tuning","x":50,"y":5.65},{"s":"w/o Pre-tuning","x":60,"y":6.00},{"s":"w/o Pre-tuning","x":70,"y":5.40},{"s":"w/o Pre-tuning","x":80,"y":5.20},{"s":"w/o Pre-tuning","x":90,"y":5.30},{"s":"w/o Pre-tuning","x":100,"y":4.90},{"s":"w/o Pre-tuning","x":110,"y":5.05},{"s":"w/o Pre-tuning","x":120,"y":4.70},{"s":"w/o Pre-tuning","x":130,"y":4.90},{"s":"w/o Pre-tuning","x":140,"y":4.55},{"s":"w/o Pre-tuning","x":150,"y":5.00},{"s":"w/o Pre-tuning","x":160,"y":4.60},{"s":"w/o Pre-tuning","x":170,"y":4.80},{"s":"w/o Pre-tuning","x":180,"y":4.40},{"s":"w/o Pre-tuning","x":190,"y":4.95},{"s":"w/o Pre-tuning","x":200,"y":4.45},{"s":"w/o Pre-tuning","x":210,"y":4.20},{"s":"w/o Pre-tuning","x":220,"y":4.70},{"s":"w/o Pre-tuning","x":230,"y":4.30},{"s":"w/o Pre-tuning","x":240,"y":4.45},{"s":"w/o Pre-tuning","x":250,"y":4.10},{"s":"w/o Pre-tuning","x":260,"y":4.30},{"s":"w/o Pre-tuning","x":270,"y":3.95},{"s":"w/o Pre-tuning","x":280,"y":4.15},{"s":"w/o Pre-tuning","x":290,"y":3.90},{"s":"w/o Pre-tuning","x":300,"y":4.10},{"s":"w/o Pre-tuning","x":310,"y":3.70},{"s":"w/o Pre-tuning","x":320,"y":3.85},{"s":"w/o Pre-tuning","x":330,"y":3.55},{"s":"w/o Pre-tuning","x":340,"y":3.65},{"s":"w/o Pre-tuning","x":350,"y":3.40},{"s":"w/o Pre-tuning","x":360,"y":3.50},{"s":"w/o Pre-tuning","x":370,"y":3.25},{"s":"w/o Pre-tuning","x":380,"y":3.35},{"s":"w/o Pre-tuning","x":390,"y":3.10},{"s":"w/o Pre-tuning","x":400,"y":3.20},{"s":"w/o Pre-tuning","x":410,"y":3.00},{"s":"w/o Pre-tuning","x":420,"y":3.10},{"s":"w/o Pre-tuning","x":430,"y":2.85},{"s":"w/o Pre-tuning","x":440,"y":3.00},{"s":"w/o Pre-tuning","x":450,"y":2.70},{"s":"w/o Pre-tuning","x":460,"y":2.80},{"s":"w/o Pre-tuning","x":470,"y":2.55},{"s":"w/o Pre-tuning","x":480,"y":2.85},{"s":"w/o Pre-tuning","x":490,"y":2.40},{"s":"w/o Pre-tuning","x":500,"y":2.60},{"s":"w/o Pre-tuning","x":510,"y":2.30},{"s":"w/o Pre-tuning","x":520,"y":2.75},{"s":"w/o Pre-tuning","x":530,"y":2.35},{"s":"w/o Pre-tuning","x":540,"y":2.25},{"s":"w/o Pre-tuning","x":550,"y":2.20},{"s":"w/o Pre-tuning","x":560,"y":2.15},{"s":"w/o Pre-tuning","x":580,"y":2.05},{"s":"w/o Pre-tuning","x":600,"y":1.95},{"s":"w/o Pre-tuning","x":620,"y":1.75},{"s":"w/o Pre-tuning","x":640,"y":1.55},{"s":"w/o Pre-tuning","x":660,"y":1.35},{"s":"w/o Pre-tuning","x":680,"y":1.15},{"s":"w/o Pre-tuning","x":700,"y":1.00},{"s":"w/o Pre-tuning","x":720,"y":0.85},{"s":"w/o Pre-tuning","x":740,"y":0.70},{"s":"w/o Pre-tuning","x":760,"y":0.58},{"s":"w/o Pre-tuning","x":780,"y":0.48},{"s":"w/o Pre-tuning","x":800,"y":0.40},{"s":"w/o Pre-tuning","x":820,"y":0.35},{"s":"w/o Pre-tuning","x":840,"y":0.30},{"s":"w/o Pre-tuning","x":860,"y":0.27},{"s":"w/o Pre-tuning","x":880,"y":0.25},{"s":"w/o Pre-tuning","x":900,"y":0.22},{"s":"w/o Pre-tuning","x":950,"y":0.20},{"s":"w/o Pre-tuning","x":1000,"y":0.18},{"s":"w/o Pre-tuning","x":1050,"y":0.20},{"s":"w/o Pre-tuning","x":1100,"y":0.17},{"s":"w/o Pre-tuning","x":1150,"y":0.19},{"s":"w/o Pre-tuning","x":1200,"y":0.16}
 ]
},
"hconcat": [
 {
  "width": 276, "height": 186,
  "encoding": {
   "x": {"field": "x", "type": "quantitative", "scale": {"domain": [0, 1200], "nice": false}, "axis": {"values": [0, 300, 600, 900, 1200], "format": ",.0f", "title": "(a) Training Steps (×10²)", "titlePadding": 15}},
   "y": {"field": "y", "type": "quantitative", "scale": {"domain": [0, 6], "nice": false, "clamp": true}, "axis": {"values": [0, 1, 2, 3, 4, 5, 6], "format": "d", "title": "Training losses", "titlePadding": 4}},
   "color": {"field": "s", "type": "nominal", "scale": {"domain": ["Sherlock", "Video Chat", "Video LLaVA", "PandaGPT", "Valley"], "range": ["#f4623a", "#5b9a5b", "#4a62c4", "#ffa83a", "#7a7a7a"]}, "legend": {"title": null, "labelOffset": 40, "symbolType": "stroke"}}
  },
  "layer": [
   {"data": {"name": "a"}, "transform": [{"lookup": "s", "from": {"data": {"name": "err"}, "key": "s", "fields": ["e"]}}],
    "mark": {"type": "errorband", "opacity": 0.25},
    "encoding": {"yError": {"field": "e"}}},
   {"data": {"name": "a"}, "mark": {"type": "line", "strokeWidth": 1, "clip": true}},
   {"data": {"name": "annA"}, "mark": {"type": "rule", "color": "black", "strokeWidth": 1},
    "encoding": {"color": {"value": "black"}, "x2": {"field": "x2"}, "y2": {"field": "y2"}}},
   {"data": {"name": "annA"}, "mark": {"type": "point", "shape": "triangle", "filled": true, "size": 18, "angle": 200, "opacity": 1},
    "encoding": {"color": {"value": "black"}, "x": {"field": "x2", "type": "quantitative"}, "y": {"field": "y2", "type": "quantitative"}}},
   {"data": {"name": "txtA"}, "mark": {"type": "text", "font": "Liberation Serif", "fontSize": 13.5, "align": "center", "baseline": "middle"},
    "encoding": {"color": {"value": "black"}, "text": {"field": "t"}}}
  ]
 },
 {
  "width": 278, "height": 186,
  "encoding": {
   "x": {"field": "x", "type": "quantitative", "scale": {"domain": [0, 1200], "nice": false}, "axis": {"values": [0, 300, 600, 900, 1200], "format": ",.0f", "title": "(b) Training Steps (×10²)", "titlePadding": 15}},
   "y": {"field": "y", "type": "quantitative", "scale": {"domain": [0, 6], "nice": false, "clamp": true}, "axis": {"values": [0, 1, 2, 3, 4, 5, 6], "format": "d", "title": "Training losses", "titlePadding": 4}},
   "color": {"field": "s", "type": "nominal", "scale": {"domain": ["Sherlock", "w/o AE", "w/o ORE", "w/o BE", "w/o GE", "w/o EG", "w/o SIR", "w/o Pre-tuning"], "range": ["#f4623a", "#5b9a5b", "#8a9fd4", "#c8695c", "#ffa83a", "#9650e6", "#6b80c4", "#8a8a8a"]}, "legend": {"title": null, "labelOffset": 46, "symbolType": "stroke"}}
  },
  "layer": [
   {"data": {"name": "b"}, "transform": [{"lookup": "s", "from": {"data": {"name": "err"}, "key": "s", "fields": ["e"]}}],
    "mark": {"type": "errorband", "opacity": 0.25},
    "encoding": {"yError": {"field": "e"}}},
   {"data": {"name": "b"}, "mark": {"type": "line", "strokeWidth": 1, "clip": true}},
   {"data": {"name": "annB"}, "mark": {"type": "rule", "strokeWidth": 1},
    "encoding": {"color": {"value": "black"}, "x2": {"field": "x2"}, "y2": {"field": "y2"}}},
   {"data": {"name": "annB"}, "mark": {"type": "point", "shape": "triangle", "filled": true, "size": 18, "angle": 202, "opacity": 1},
    "encoding": {"color": {"value": "black"}, "x": {"field": "x2", "type": "quantitative"}, "y": {"field": "y2", "type": "quantitative"}}},
   {"data": {"name": "txtB"}, "mark": {"type": "text", "font": "Liberation Serif", "fontSize": 13.5, "align": "center", "baseline": "middle"},
    "encoding": {"color": {"value": "black"}, "text": {"field": "t"}}}
  ]
 }
],
"resolve": {"scale": {"color": "independent"}, "legend": {"color": "independent"}}
}
